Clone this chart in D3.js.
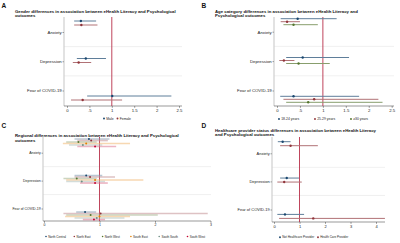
<!DOCTYPE html>
<html>
<head>
<meta charset="utf-8">
<script src="https://cdn.jsdelivr.net/npm/d3@7"></script>
<style>
body{margin:0;background:#fff;}
svg{display:block;font-family:"Liberation Sans",Arial,sans-serif;}
</style>
</head>
<body>
<script>
// outcomes shared by the four panels
var outcomes = ["Anxiety", "Depression", "Fear of COVID-19"];

// A - gender
var genderSeries = ["Male", "Female"];
var genderEst = [[0.31, 0.42, 1.01], [0.32, 0.26, 0.35]];
var genderLo  = [[0.16, 0.22, 0.45], [0.16, 0.13, 0.09]];
var genderHi  = [[0.65, 0.87, 2.33], [0.68, 0.54, 1.23]];

// B - age category
var ageSeries = ["18-24 years", "25-29 years", "\u226530 years"];
var ageEst = [[0.45, 0.56, 0.36], [0.22, 0.15, 0.81], [0.36, 0.47, 0.68]];
var ageLo  = [[0.08, 0.20, 0.07], [0.08, 0.05, 0.14], [0.14, 0.20, 0.20]];
var ageHi  = [[1.30, 1.57, 1.79], [0.50, 0.38, 2.21], [0.89, 1.15, 2.30]];

// C - region
var regionSeries = ["North Central", "North East", "North West", "South East", "South South", "South West"];
var regionEst = [[0.81, 0.76, 0.74], [0.85, 0.83, 1.02], [0.62, 0.59, 0.84], [0.76, 0.92, 1.00], [0.70, 0.68, 0.95], [0.92, 0.92, 0.90]];
var regionLo  = [[0.55, 0.55, 0.58], [0.60, 0.55, 0.35], [0.40, 0.35, 0.40], [0.34, 0.40, 0.38], [0.45, 0.40, 0.55], [0.60, 0.65, 0.70]];
var regionHi  = [[1.18, 1.05, 0.94], [1.15, 1.28, 2.95], [0.95, 0.95, 2.05], [1.55, 1.79, 1.55], [1.05, 1.10, 1.45], [1.30, 1.15, 1.10]];

// D - healthcare provider status
var providerSeries = ["Not Healthcare Provider", "Health Care Provider"];
var providerEst = [[0.34, 0.50, 0.43], [0.65, 0.40, 1.54]];
var providerLo  = [[0.15, 0.24, 0.13], [0.24, 0.13, 0.20]];
var providerHi  = [[0.65, 0.98, 1.18], [1.72, 1.09, 4.35]];

// x tick values
var ticksHalf = [0, 0.5, 1, 1.5, 2, 2.5];
var ticksC = [0, 1, 2, 3];
var ticksD = [0, 1, 2, 3, 4];

// stata s2color palette
var s2 = ["#1a476f", "#90353b", "#55752f", "#e37e00", "#6e8e84", "#c10534"];

var svg = d3.select("body").append("svg")
	.attr("width", 400)
	.attr("height", 243);
svg.append("rect").attr("width", 400).attr("height", 243).attr("fill", "#fff");

class ForestPanel{
	constructor(cfg){
		this.cfg = cfg;
		var that = this;
		this.g = svg.append("g");

		this.xScale = d3.scaleLinear()
			.domain([0, d3.max(cfg.ticks)])
			.range(cfg.xRange);

		// stata puts the marks and the category labels on different spacing
		this.markScale = d3.scalePoint().domain(outcomes).range(cfg.markRange);
		this.labelScale = d3.scalePoint().domain(outcomes).range(cfg.labelRange);

		this.g.append("text")
			.attr("x", cfg.letterPos[0]).attr("y", cfg.letterPos[1])
			.attr("font-size", 6.5).attr("font-weight", "bold").attr("fill", "#111")
			.text(cfg.letter);

		cfg.title.forEach(function(t, i){
			that.g.append("text")
				.attr("x", cfg.titlePos[0])
				.attr("y", cfg.titlePos[1] + i * 4.3)
				.attr("font-size", 4.3).attr("font-weight", "bold").attr("fill", "#111")
				.text(t);
		});

		var f = cfg.frame;
		// gridlines between outcomes
		var mids = [];
		for(var i = 0; i < outcomes.length - 1; i++){
			mids.push((that.labelScale(outcomes[i]) + that.labelScale(outcomes[i + 1])) / 2);
		}
		this.g.selectAll(".grid").data(mids).enter().append("line")
			.attr("x1", f.left).attr("x2", f.right)
			.attr("y1", function(d){ return d; }).attr("y2", function(d){ return d; })
			.attr("stroke", "#e6e6e6").attr("stroke-width", 0.6);

		// left axis line
		this.g.append("line")
			.attr("x1", f.left).attr("x2", f.left).attr("y1", f.top).attr("y2", f.bottom)
			.attr("stroke", "#cfcfcf").attr("stroke-width", 1.2);
		// bottom axis line
		this.g.append("line")
			.attr("x1", f.left).attr("x2", f.right).attr("y1", f.bottom).attr("y2", f.bottom)
			.attr("stroke", "#555").attr("stroke-width", 0.6);

		var xAxis = d3.axisBottom(this.xScale)
			.tickValues(cfg.ticks)
			.tickSize(1.8)
			.tickPadding(1)
			.tickFormat(function(d){ return String(d).replace(/^0\./, "."); });
		var xg = this.g.append("g")
			.attr("transform", "translate(0," + f.bottom + ")")
			.call(xAxis);
		xg.select(".domain").remove();
		xg.selectAll("line").attr("stroke", "#555").attr("stroke-width", 0.6);
		xg.selectAll("text").attr("font-size", cfg.fs).attr("fill", "#222").attr("font-family", null);

		var yAxis = d3.axisLeft(this.labelScale).tickSize(1.5).tickPadding(0.8);
		var yg = this.g.append("g")
			.attr("transform", "translate(" + f.left + ",0)")
			.call(yAxis);
		yg.select(".domain").remove();
		yg.selectAll("line").attr("stroke", "#666").attr("stroke-width", 0.6);
		yg.selectAll("text").attr("font-size", cfg.fs).attr("fill", "#222").attr("font-family", null);

		// reference line at 1
		this.g.append("line")
			.attr("x1", this.xScale(1)).attr("x2", this.xScale(1))
			.attr("y1", f.top).attr("y2", f.bottom)
			.attr("stroke", "#b8304a").attr("stroke-width", 0.9);
	}

	draw(names, est, lo, hi){
		var that = this;
		var cfg = this.cfg;
		var n = names.length;
		var rows = [];
		names.forEach(function(s, j){
			outcomes.forEach(function(o, i){
				rows.push({s: j, o: o, b: est[j][i], lo: lo[j][i], hi: hi[j][i]});
			});
		});
		var yOf = function(d){ return that.markScale(d.o) + (d.s - (n - 1) / 2) * cfg.step; };
		var light = function(j){ return d3.interpolateRgb(s2[j], "#fff")(cfg.ciFade); };

		this.g.selectAll(".ci").data(rows).enter().append("line")
			.attr("x1", function(d){ return that.xScale(d.lo); })
			.attr("x2", function(d){ return that.xScale(d.hi); })
			.attr("y1", yOf).attr("y2", yOf)
			.attr("stroke", function(d){ return light(d.s); })
			.attr("stroke-width", cfg.ciWidth)
			.attr("stroke-opacity", cfg.ciOpacity);

		this.g.selectAll(".pt").data(rows).enter().append("circle")
			.attr("cx", function(d){ return that.xScale(d.b); })
			.attr("cy", yOf)
			.attr("r", cfg.r)
			.attr("fill", function(d){ return s2[d.s]; });

		var leg = this.g.selectAll(".leg").data(names).enter().append("g")
			.attr("transform", function(d, j){ return "translate(" + (cfg.legend[0] + j * cfg.legendCol) + "," + cfg.legend[1] + ")"; });
		leg.append("circle").attr("r", cfg.r * 0.8).attr("fill", function(d, j){ return s2[j]; });
		leg.append("text")
			.attr("x", 2.2).attr("dy", "0.35em")
			.attr("font-size", cfg.legendFs).attr("fill", "#222")
			.text(function(d){ return d; });
	}
}

var pA = new ForestPanel({
	letter: "A", letterPos: [1.5, 7.5],
	title: ["Gender differences in association between eHealth Literacy and Psychological", "outcomes"],
	titlePos: [15, 12.5],
	frame: {left: 64, right: 182, top: 17, bottom: 106},
	xRange: [67, 179], ticks: ticksHalf,
	markRange: [23, 98], labelRange: [32, 90.5], step: 4,
	fs: 4.3, r: 1.2, ciWidth: 1, ciOpacity: 1, ciFade: 0.3,
	legend: [104, 118.5], legendCol: 13.5, legendFs: 3.4
});
pA.draw(genderSeries, genderEst, genderLo, genderHi);

var pB = new ForestPanel({
	letter: "B", letterPos: [201.5, 7.5],
	title: ["Age category differences in association between eHealth Literacy and", "Psychological outcomes"],
	titlePos: [215, 12.5],
	frame: {left: 274, right: 394, top: 17, bottom: 106},
	xRange: [277, 391.7], ticks: ticksHalf,
	markRange: [21.7, 99.3], labelRange: [31.7, 90.5], step: 3,
	fs: 4.3, r: 1.2, ciWidth: 1, ciOpacity: 1, ciFade: 0.3,
	legend: [279, 119], legendCol: 36, legendFs: 3.4
});
pB.draw(ageSeries, ageEst, ageLo, ageHi);

var pC = new ForestPanel({
	letter: "C", letterPos: [1.5, 128],
	title: ["Regional differences in association between eHealth Literacy and Psychological", "outcomes"],
	titlePos: [15, 137.3],
	frame: {left: 43, right: 211, top: 137, bottom: 221},
	xRange: [44, 210.5], ticks: ticksC,
	markRange: [142.8, 215.8], labelRange: [152.7, 208.5], step: 1.5,
	fs: 3.5, r: 1, ciWidth: 1.6, ciOpacity: 0.55, ciFade: 0.45,
	legend: [46, 236.5], legendCol: 28.3, legendFs: 3
});
pC.draw(regionSeries, regionEst, regionLo, regionHi);

var pD = new ForestPanel({
	letter: "D", letterPos: [201.5, 128],
	title: ["Healthcare provider status differences in association between eHealth Literacy", "and Psychological outcomes"],
	titlePos: [215, 132],
	frame: {left: 272, right: 385, top: 137, bottom: 222},
	xRange: [274, 376], ticks: ticksD,
	markRange: [143.7, 216.4], labelRange: [153.3, 209.5], step: 4,
	fs: 4, r: 1.2, ciWidth: 1, ciOpacity: 1, ciFade: 0.3,
	legend: [280, 237.2], legendCol: 38, legendFs: 3
});
pD.draw(providerSeries, providerEst, providerLo, providerHi);
</script>
</body>
</html>
